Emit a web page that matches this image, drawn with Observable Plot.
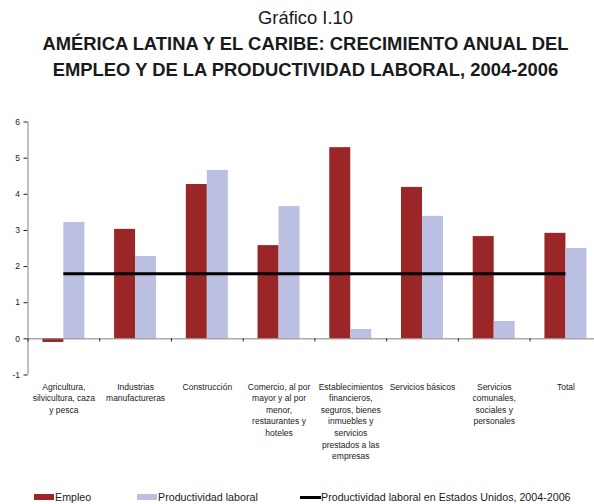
<!DOCTYPE html>
<html>
<head>
<meta charset="utf-8">
<script src="https://cdn.jsdelivr.net/npm/d3@7"></script>
<script src="https://cdn.jsdelivr.net/npm/@observablehq/plot@0.6"></script>
<style>
  html, body { margin: 0; padding: 0; background: white; overflow: hidden; }
  body { width: 594px; height: 504px; position: relative; font-family: "Liberation Sans", Arial, sans-serif; color: #1a1a1a; }
  #title { position: absolute; left: 17px; top: 5.2px; width: 577px; text-align: center; font-size: 18.4px; line-height: 26px; }
  #title .sup { font-weight: normal; }
  #title .main { font-weight: bold; }
  #chart { position: absolute; left: 0; top: 90px; }
  .leg { position: absolute; top: 491.3px; font-size: 10.7px; line-height: 12px; white-space: nowrap; }
  .sw { position: absolute; }
</style>
</head>
<body>
<div id="title">
  <div class="sup">Gráfico I.10</div>
  <div class="main">AMÉRICA LATINA Y EL CARIBE: CRECIMIENTO ANUAL DEL<br>EMPLEO Y DE LA PRODUCTIVIDAD LABORAL, 2004-2006</div>
</div>
<div id="chart"></div>
<div id="legend"></div>
<script>
const categories = [
  "Agricultura,\nsilvicultura, caza\ny pesca",
  "Industrias\nmanufactureras",
  "Construcción",
  "Comercio, al por\nmayor y al por\nmenor,\nrestaurantes y\nhoteles",
  "Establecimientos\nfinancieros,\nseguros, bienes\ninmuebles y\nservicios\nprestados a las\nempresas",
  "Servicios básicos",
  "Servicios\ncomunales,\nsociales y\npersonales",
  "Total"
];
const empleo = [-0.1, 3.03, 4.27, 2.58, 5.29, 4.19, 2.83, 2.92];
const productividad = [3.22, 2.28, 4.66, 3.66, 0.26, 3.39, 0.48, 2.50];
const productividadEEUU = 1.8;
const yTicks = [-1, 0, 1, 2, 3, 4, 5, 6];
const seriesNames = ["Empleo", "Productividad laboral", "Productividad laboral en Estados Unidos, 2004-2006"];

const RED = "#9b2627";
const BLUE = "#bbbfe1";

const rows = categories.map((c, i) => ({i, c, empleo: empleo[i], prod: productividad[i]}));
const boundaries = d3.range(categories.length + 1);

const bandPx = (601.3 - 27.5) / categories.length;
const barPx = 21;
const half = bandPx / 2;

const chart = Plot.plot({
  width: 594,
  height: 380,
  marginLeft: 27.5,
  marginRight: 594 - 601.3,
  marginTop: 31.5,
  marginBottom: 95.5,
  style: {fontFamily: "Liberation Sans, Arial, sans-serif", fontSize: "8.5px", background: "white", color: "#1a1a1a"},
  x: {domain: [0, categories.length], axis: null},
  y: {domain: [-1, 6], ticks: yTicks, tickSize: 4, tickPadding: 4, label: null, tickFormat: d => String(d)},
  marks: [
    Plot.rect(rows, {x1: d => d.i, x2: d => d.i + 1, y1: 0, y2: d => d.empleo, fill: RED, insetLeft: half - barPx, insetRight: half}),
    Plot.rect(rows, {x1: d => d.i, x2: d => d.i + 1, y1: 0, y2: d => d.prod, fill: BLUE, insetLeft: half, insetRight: half - barPx}),
    Plot.ruleX([0], {y1: -1, y2: 6, stroke: "#808080", strokeWidth: 1}),
    Plot.ruleY([0], {stroke: "#808080", strokeWidth: 1}),
    Plot.ruleX(boundaries, {y1: 0, y2: -1, insetBottom: 33, stroke: "#222", strokeWidth: 1}),
    Plot.ruleY([productividadEEUU], {x1: 0.5, x2: categories.length - 0.5, stroke: "#000", strokeWidth: 3}),
    Plot.text(rows, {x: d => d.i + 0.5, y: -1, text: d => d.c, lineAnchor: "top", dy: 6.5, fontSize: 8.5, lineHeight: 1.36, fill: "#1a1a1a"})
  ]
});
document.getElementById("chart").appendChild(chart);

const legend = document.getElementById("legend");
const items = [
  {name: seriesNames[0], sw: {left: 34, top: 494.3, width: 20, height: 5.7, background: RED}, text: 55},
  {name: seriesNames[1], sw: {left: 136.7, top: 494.3, width: 20, height: 5.7, background: BLUE}, text: 158},
  {name: seriesNames[2], sw: {left: 300, top: 495.8, width: 20.5, height: 2.8, background: "#000"}, text: 321}
];
for (const it of items) {
  const s = document.createElement("div");
  s.className = "sw";
  for (const k in it.sw) s.style[k] = typeof it.sw[k] === "number" ? it.sw[k] + "px" : it.sw[k];
  legend.appendChild(s);
  const t = document.createElement("div");
  t.className = "leg";
  t.style.left = it.text + "px";
  t.textContent = it.name;
  legend.appendChild(t);
}
</script>
</body>
</html>
